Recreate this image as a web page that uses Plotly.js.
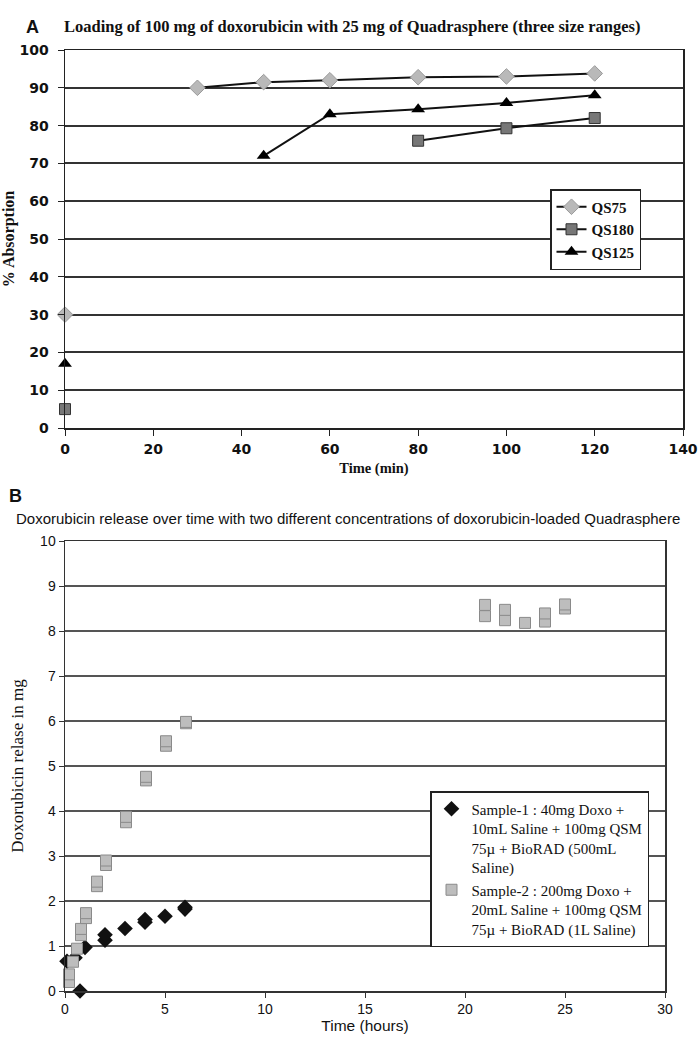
<!DOCTYPE html>
<html>
<head>
<meta charset="utf-8">
<script src="https://cdn.plot.ly/plotly-3.0.1.min.js"></script>
<style>html,body{margin:0;padding:0;background:#fff;}#chart{width:699px;height:1050px;}</style>
</head>
<body>
<div id="chart"></div>
<script>
// ---- Panel A data: loading (% absorption vs time in min) ----
const qs75Time = [0, null, 30, 45, 60, 80, 100, 120];
const qs75Abs  = [30, null, 90, 91.5, 92, 92.8, 93, 93.8];
const qs180Time = [0, null, 80, 100, 120];
const qs180Abs  = [5, null, 76, 79.3, 82];
const qs125Time = [0, null, 45, 60, 80, 100, 120];
const qs125Abs  = [17, null, 72, 83, 84.3, 86, 88];

// ---- Panel B data: release (mg vs time in hours) ----
const s1Time = [0.1, 0.5, 0.75, 1, 2, 2, 3, 4, 4, 5, 6, 6];
const s1Rel  = [0.66, 0.74, 0, 0.97, 1.13, 1.25, 1.39, 1.53, 1.59, 1.66, 1.82, 1.86];
const s2Time = [0.2, 0.2, 0.4, 0.6, 0.8, 0.8, 1.05, 1.05, 1.6, 1.6, 2.05, 2.05, 3.05, 3.05, 4.05, 4.05, 5.05, 5.05, 6.05, 6.05, 21, 21, 22, 22, 23, 24, 24, 25, 25];
const s2Rel  = [0.2, 0.37, 0.65, 0.94, 1.24, 1.38, 1.62, 1.73, 2.33, 2.43, 2.8, 2.9, 3.75, 3.87, 4.68, 4.76, 5.45, 5.55, 5.95, 5.98, 8.33, 8.58, 8.24, 8.47, 8.18, 8.21, 8.39, 8.5, 8.59];

const serif = "Liberation Serif, Times New Roman, serif";
const sans = "Liberation Sans, Arial, sans-serif";
const dejavu = "DejaVu Sans, sans-serif";

const traces = [
  {x: qs75Time, y: qs75Abs, name: 'QS75', mode: 'lines+markers', xaxis: 'x', yaxis: 'y', legend: 'legend', cliponaxis: false,
   line: {color: '#111', width: 2}, marker: {symbol: 'diamond', size: 12, color: '#b9b9b9', line: {color: '#9a9a9a', width: 1}}},
  {x: qs180Time, y: qs180Abs, name: 'QS180', mode: 'lines+markers', xaxis: 'x', yaxis: 'y', legend: 'legend', cliponaxis: false,
   line: {color: '#111', width: 2}, marker: {symbol: 'square', size: 11, color: '#777', line: {color: '#333', width: 1}}},
  {x: qs125Time, y: qs125Abs, name: 'QS125', mode: 'lines+markers', xaxis: 'x', yaxis: 'y', legend: 'legend', cliponaxis: false,
   line: {color: '#111', width: 2}, marker: {symbol: 'triangle-up', size: 12, color: '#000'}},
  {x: s1Time, y: s1Rel, name: 'Sample-1 : 40mg Doxo +<br>10mL Saline + 100mg QSM<br>75µ + BioRAD (500mL<br>Saline)', mode: 'markers', xaxis: 'x2', yaxis: 'y2', legend: 'legend2', cliponaxis: false,
   marker: {symbol: 'diamond', size: 12, color: '#111'}},
  {x: s2Time, y: s2Rel, name: 'Sample-2 : 200mg Doxo +<br>20mL Saline + 100mg QSM<br>75µ + BioRAD (1L Saline)', mode: 'markers', xaxis: 'x2', yaxis: 'y2', legend: 'legend2', cliponaxis: false,
   marker: {symbol: 'square', size: 11, color: '#bdbdbd', line: {color: '#8a8a8a', width: 1}}}
];

const W = 699, H = 1050;
const layout = {
  width: W, height: H,
  margin: {l: 0, r: 0, t: 0, b: 0},
  paper_bgcolor: '#fff', plot_bgcolor: '#fff',
  showlegend: true,
  xaxis: {domain: [65/W, 683/W], anchor: 'y', range: [0, 140], dtick: 20, showgrid: false, zeroline: false,
    showline: true, mirror: true, linecolor: '#222', linewidth: 1.5, ticks: 'outside', ticklen: 6, tickcolor: '#222', ticklabelstandoff: 2,
    tickfont: {family: dejavu, size: 14, color: '#111', weight: 'bold'},
    title: {text: '<b>Time (min)</b>', font: {family: serif, size: 14.5, color: '#111'}, standoff: 6}},
  yaxis: {domain: [1 - 428/H, 1 - 50/H], anchor: 'x', range: [0, 100], dtick: 10, showgrid: true, gridcolor: '#333', gridwidth: 2, zeroline: false,
    showline: true, mirror: true, linecolor: '#222', linewidth: 1.5, ticks: 'outside', ticklen: 6, tickcolor: '#222', ticklabelstandoff: 6,
    tickfont: {family: dejavu, size: 14, color: '#111', weight: 'bold'},
    title: {text: '<b>% Absorption</b>', font: {family: serif, size: 16, color: '#111'}, standoff: 4}},
  xaxis2: {domain: [65/W, 665/W], anchor: 'y2', range: [0, 30], dtick: 5, showgrid: false, zeroline: false,
    showline: true, mirror: true, linecolor: '#333', linewidth: 1.5, ticks: 'outside', ticklen: 5, tickcolor: '#333',
    tickfont: {family: sans, size: 14, color: '#111'},
    title: {text: 'Time (hours)', font: {family: sans, size: 15.5, color: '#111'}, standoff: 4}},
  yaxis2: {domain: [1 - 991/H, 1 - 541/H], anchor: 'x2', range: [0, 10], dtick: 1, showgrid: true, gridcolor: '#555', gridwidth: 2, zeroline: false,
    showline: true, mirror: true, linecolor: '#333', linewidth: 1.5, ticks: 'outside', ticklen: 5, tickcolor: '#333',
    tickfont: {family: sans, size: 14, color: '#111'},
    title: {text: 'Doxorubicin relase in mg', font: {family: serif, size: 17, color: '#111'}, standoff: 12}},
  legend: {x: 550/W, y: 1 - 189/H, xanchor: 'left', yanchor: 'top', bgcolor: '#fff', bordercolor: '#222', borderwidth: 1.5,
    font: {family: serif, size: 15, color: '#111', weight: 'bold'}, tracegroupgap: 0, itemwidth: 30},
  legend2: {x: 430/W, y: 1 - 791/H, xanchor: 'left', yanchor: 'top', bgcolor: '#fff', bordercolor: '#222', borderwidth: 1.5,
    font: {family: serif, size: 15, color: '#111'}, tracegroupgap: 4, itemwidth: 30, valign: 'top'},
  annotations: [
    {text: '<b>A</b>', xref: 'paper', yref: 'paper', x: 24/W, y: 1 - 27/H, xanchor: 'left', yanchor: 'middle', showarrow: false,
      font: {family: sans, size: 18, color: '#111'}},
    {text: '<b>Loading of 100 mg of doxorubicin with 25 mg of Quadrasphere (three size ranges)</b>', xref: 'paper', yref: 'paper',
      x: 62/W, y: 1 - 27/H, xanchor: 'left', yanchor: 'middle', showarrow: false, font: {family: serif, size: 16.5, color: '#111'}},
    {text: '<b>B</b>', xref: 'paper', yref: 'paper', x: 7/W, y: 1 - 496/H, xanchor: 'left', yanchor: 'middle', showarrow: false,
      font: {family: sans, size: 18, color: '#111'}},
    {text: 'Doxorubicin release over time with two different concentrations of doxorubicin-loaded Quadrasphere', xref: 'paper', yref: 'paper',
      x: 14/W, y: 1 - 518/H, xanchor: 'left', yanchor: 'middle', showarrow: false, font: {family: sans, size: 15, color: '#111'}}
  ]
};

Plotly.newPlot('chart', traces, layout, {displayModeBar: false, staticPlot: true});
</script>
</body>
</html>
